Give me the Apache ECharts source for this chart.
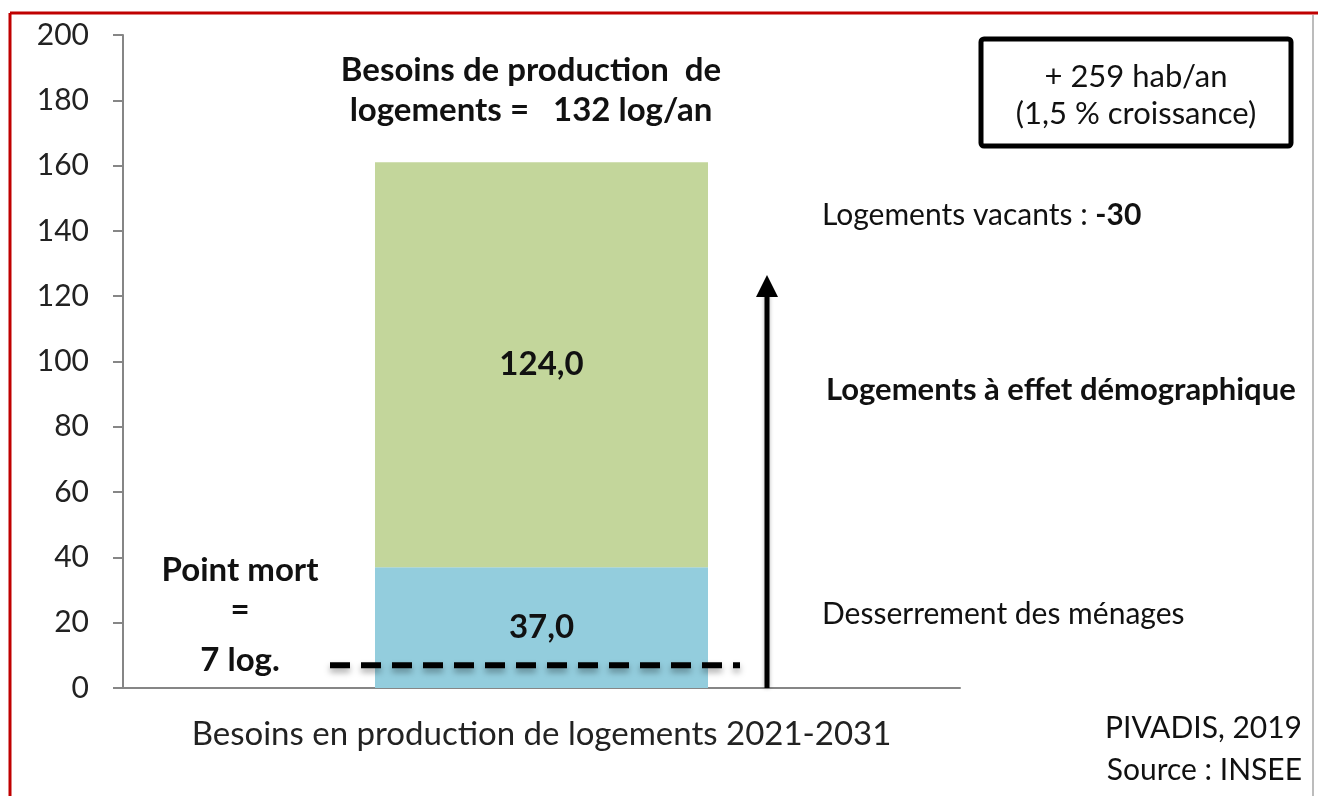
<!doctype html>
<html lang="fr">
<head>
<meta charset="UTF-8">
<title>Besoins en production de logements</title>
<script src="https://cdn.jsdelivr.net/npm/echarts@6/dist/echarts.min.js"></script>
<style>
  html, body { margin: 0; padding: 0; background: #fff; }
  #main { width: 1318px; height: 796px; }
</style>
</head>
<body>
<div id="main"></div>
<script>
// données du graphique
var categories = ['Besoins en production de logements 2021-2031'];
var desserrement = [37.0];   // Desserrement des ménages
var effetDemo = [124.0];     // Logements à effet démographique
var pointMort = 7;           // Point mort (log.)
var arrowTop = 126.5;        // sommet de la flèche (valeur sur l'axe)
var yMin = 0, yMax = 200, yStep = 20;

var FONT = 'Lato, "Open Sans", sans-serif';

function fr(v) { return v.toFixed(1).replace('.', ','); }

var myChart = echarts.init(document.getElementById('main'));

var option = {
    animation: false,
    backgroundColor: '#fff',
    textStyle: { fontFamily: FONT },
    grid: { left: 123, right: 358, top: 35, bottom: 108 },
    xAxis: {
        type: 'category',
        data: categories,
        axisLine: { lineStyle: { color: '#868686', width: 2 } },
        axisTick: { length: 12, lineStyle: { color: '#868686', width: 2 } },
        axisLabel: { color: '#222', fontSize: 33, margin: 30, fontFamily: FONT }
    },
    yAxis: {
        type: 'value',
        min: yMin, max: yMax, interval: yStep,
        splitLine: { show: false },
        axisLine: { show: true, lineStyle: { color: '#868686', width: 2 } },
        axisTick: { show: true, length: 10, lineStyle: { color: '#868686', width: 2 } },
        axisLabel: { color: '#222', fontSize: 30, margin: 34, fontFamily: FONT }
    },
    series: [
        {
            name: 'Desserrement des ménages',
            type: 'bar',
            stack: 'total',
            barWidth: 333,
            data: desserrement,
            itemStyle: { color: '#93CDDD' },
            label: {
                show: true, position: 'inside', color: '#111',
                fontSize: 33, fontWeight: 'bold', fontFamily: FONT,
                formatter: function (p) { return fr(p.value); }
            }
        },
        {
            name: 'Logements à effet démographique',
            type: 'bar',
            stack: 'total',
            data: effetDemo,
            itemStyle: { color: '#C3D69B' },
            label: {
                show: true, position: 'inside', color: '#111',
                fontSize: 33, fontWeight: 'bold', fontFamily: FONT,
                formatter: function (p) { return fr(p.value); }
            }
        }
    ]
};
myChart.setOption(option);

// annotations (placées à partir de l'axe y)
var yPM = myChart.convertToPixel({ yAxisIndex: 0 }, pointMort);
var y0 = myChart.convertToPixel({ yAxisIndex: 0 }, 0);
var yTop = myChart.convertToPixel({ yAxisIndex: 0 }, arrowTop);
var arrowX = 767;

function txt(x, y, s, size, bold, align) {
    return {
        type: 'text', x: x, y: y, z: 10,
        style: {
            text: s, fill: '#111', font: (bold ? 'bold ' : '') + size + 'px ' + FONT,
            textAlign: align || 'left', textVerticalAlign: 'middle'
        }
    };
}

myChart.setOption({
    graphic: [
        // cadre
        { type: 'line', shape: { x1: 10, y1: 13, x2: 1318, y2: 13 }, style: { stroke: '#C00000', lineWidth: 3 } },
        { type: 'line', shape: { x1: 10, y1: 13, x2: 10, y2: 796 }, style: { stroke: '#C00000', lineWidth: 3 } },
        { type: 'line', shape: { x1: 1313, y1: 15, x2: 1313, y2: 796 }, style: { stroke: '#A6A6A6', lineWidth: 1.5 } },
        // titre
        txt(531, 70, 'Besoins de production  de', 33, true, 'center'),
        txt(531, 110, 'logements =   132 log/an', 33, true, 'center'),
        // encadré
        { type: 'rect', shape: { x: 981, y: 39, width: 310, height: 107, r: 3 }, style: { fill: '#fff', stroke: '#000', lineWidth: 5 } },
        txt(1136, 77, '+ 259 hab/an', 31, false, 'center'),
        txt(1136, 114, '(1,5 % croissance)', 31, false, 'center'),
        // textes à droite
        {
            type: 'text', x: 822, y: 215, z: 10,
            style: {
                text: '{n|Logements vacants : }{b|-30}', textVerticalAlign: 'middle',
                rich: {
                    n: { fontSize: 30, fontFamily: FONT, fill: '#111', fontWeight: 'normal' },
                    b: { fontSize: 30, fontFamily: FONT, fill: '#111', fontWeight: 'bold' }
                }
            }
        },
        txt(826, 390, 'Logements à effet démographique', 31, true, 'left'),
        txt(822, 614, 'Desserrement des ménages', 30, false, 'left'),
        // point mort
        txt(240, 570, 'Point mort', 33, true, 'center'),
        txt(240, 610, '=', 33, true, 'center'),
        txt(240, 660, '7 log.', 33, true, 'center'),
        {
            type: 'line', z: 9,
            shape: { x1: 330, y1: yPM, x2: 740, y2: yPM },
            style: {
                stroke: '#000', lineWidth: 6, lineDash: [20, 11],
                shadowBlur: 6, shadowOffsetY: 4, shadowColor: 'rgba(0,0,0,0.35)'
            }
        },
        // flèche
        {
            type: 'line', z: 9,
            shape: { x1: arrowX, y1: y0, x2: arrowX, y2: yTop + 18 },
            style: { stroke: '#000', lineWidth: 5, shadowBlur: 4, shadowColor: 'rgba(0,0,0,0.3)' }
        },
        {
            type: 'polygon', z: 9,
            shape: { points: [[arrowX, yTop], [arrowX - 11, yTop + 22], [arrowX + 11, yTop + 22]] },
            style: { fill: '#000' }
        },
        // source
        txt(1302, 728, 'PIVADIS, 2019', 30, false, 'right'),
        txt(1302, 770, 'Source : INSEE', 30, false, 'right')
    ]
});
</script>
</body>
</html>
